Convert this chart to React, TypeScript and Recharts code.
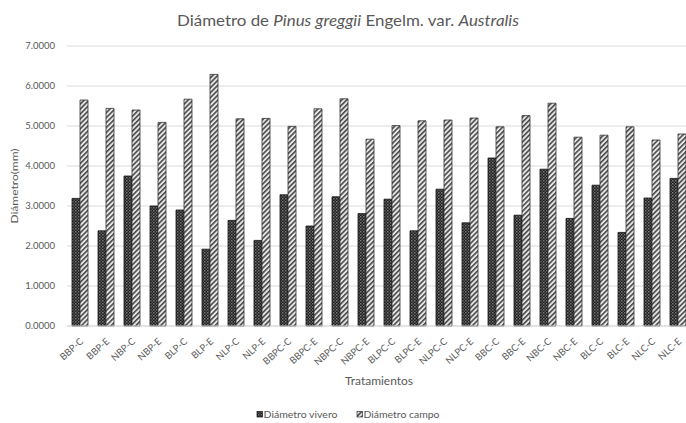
import React from "react";
import { BarChart, Bar, XAxis, YAxis, CartesianGrid, Label } from "recharts";

const categories = [
  "BBP-C", "BBP-E", "NBP-C", "NBP-E", "BLP-C", "BLP-E", "NLP-C", "NLP-E",
  "BBPC-C", "BBPC-E", "NBPC-C", "NBPC-E", "BLPC-C", "BLPC-E", "NLPC-C", "NLPC-E",
  "BBC-C", "BBC-E", "NBC-C", "NBC-E", "BLC-C", "BLC-E", "NLC-C", "NLC-E",
];
const vivero = [3.19, 2.38, 3.75, 3.0, 2.9, 1.92, 2.64, 2.14, 3.28, 2.5, 3.23, 2.81, 3.17, 2.38, 3.42, 2.58, 4.2, 2.77, 3.92, 2.69, 3.52, 2.34, 3.2, 3.69];
const campo = [5.65, 5.44, 5.4, 5.09, 5.67, 6.29, 5.18, 5.19, 4.99, 5.43, 5.68, 4.67, 5.01, 5.13, 5.15, 5.2, 4.98, 5.26, 5.57, 4.72, 4.77, 4.98, 4.65, 4.8];
const yTicks = [0, 1, 2, 3, 4, 5, 6, 7];
const seriesNames = ["Diámetro vivero", "Diámetro campo"];

const data = categories.map((c, i) => ({ name: c, vivero: vivero[i], campo: campo[i] }));

const FONT = "Lato, 'Open Sans', sans-serif";
const GRAY = "#595959";

const Patterns = ({ prefix }: { prefix: string }) => (
  <defs>
    <pattern id={`${prefix}viv`} width="3" height="3" patternUnits="userSpaceOnUse">
      <rect width="3" height="3" fill="#1c1c1c" />
      <rect x="0" y="0" width="1.5" height="1.5" fill="#7a7a7a" />
      <rect x="1.5" y="1.5" width="1.5" height="1.5" fill="#555" />
    </pattern>
    <pattern id={`${prefix}cam`} width="3.5" height="3.5" patternUnits="userSpaceOnUse" patternTransform="rotate(45)">
      <rect width="3.5" height="3.5" fill="#e6e6e6" />
      <rect width="1.6" height="3.5" fill="#4a4a4a" />
    </pattern>
  </defs>
);

const XTick = (props: any) => {
  const { x, y, payload } = props;
  return (
    <g transform={`translate(${x + 2},${y + 6})`}>
      <text x={0} y={0} dy={3} textAnchor="end" transform="rotate(-42)" fontSize={9.5} fill={GRAY} fontFamily={FONT}>
        {payload.value}
      </text>
    </g>
  );
};

const XTitle = (props: any) => {
  const { viewBox } = props;
  const cx = viewBox.x + viewBox.width / 2;
  return (
    <text x={cx} y={385} textAnchor="middle" fontSize={10.5} fill={GRAY} fontFamily={FONT} textLength={68} lengthAdjust="spacingAndGlyphs">
      Tratamientos
    </text>
  );
};

const YTitle = (props: any) => {
  const { viewBox } = props;
  const cy = viewBox.y + viewBox.height / 2;
  return (
    <text x={0} y={0} transform={`translate(17.5,${cy}) rotate(-90)`} textAnchor="middle" fontSize={10} fill={GRAY} fontFamily={FONT} textLength={75} lengthAdjust="spacingAndGlyphs">
      Diámetro(mm)
    </text>
  );
};

export default function App() {
  return (
    <div style={{ position: "fixed", left: 0, top: 0, width: 686, height: 423, overflow: "hidden", background: "#fff", fontFamily: FONT }}>
      <BarChart width={700} height={423} data={data} margin={{ top: 46, right: 9, left: 0, bottom: 0 }} barGap={0} barSize={8}>
        <Patterns prefix="c" />
        <CartesianGrid vertical={false} stroke="#d9d9d9" />
        <XAxis dataKey="name" height={97} interval={0} tick={<XTick />} tickLine={false} axisLine={{ stroke: "#d9d9d9" }}>
          <Label content={<XTitle />} />
        </XAxis>
        <YAxis
          width={67}
          domain={[0, 7]}
          ticks={yTicks}
          tickFormatter={(v: number) => v.toFixed(4)}
          tickLine={false}
          axisLine={false}
          tickMargin={6}
          tick={{ fontSize: 9.5, fill: GRAY, fontFamily: FONT }}
        >
          <Label content={<YTitle />} />
        </YAxis>
        <Bar dataKey="vivero" name={seriesNames[0]} fill="url(#cviv)" stroke="#111" strokeWidth={0.8} isAnimationActive={false} />
        <Bar dataKey="campo" name={seriesNames[1]} fill="url(#ccam)" stroke="#333" strokeWidth={0.8} isAnimationActive={false} />
      </BarChart>
      <svg width={686} height={423} style={{ position: "absolute", left: 0, top: 0, pointerEvents: "none" }}>
        <Patterns prefix="l" />
        <text x={348} y={25.5} textAnchor="middle" fontSize={15} fill={GRAY} fontFamily={FONT} textLength={342} lengthAdjust="spacingAndGlyphs">
          Diámetro de <tspan fontStyle="italic">Pinus greggii</tspan> Engelm. var. <tspan fontStyle="italic">Australis</tspan>
        </text>
        <rect x={257} y={411.5} width={5.5} height={5.5} fill="url(#lviv)" stroke="#111" strokeWidth={0.7} />
        <text x={263.5} y={418} fontSize={9} fill={GRAY} fontFamily={FONT} textLength={74} lengthAdjust="spacingAndGlyphs">
          {seriesNames[0]}
        </text>
        <rect x={357} y={411.5} width={5.5} height={5.5} fill="url(#lcam)" stroke="#333" strokeWidth={0.7} />
        <text x={363.5} y={418} fontSize={9} fill={GRAY} fontFamily={FONT} textLength={76} lengthAdjust="spacingAndGlyphs">
          {seriesNames[1]}
        </text>
      </svg>
    </div>
  );
}
